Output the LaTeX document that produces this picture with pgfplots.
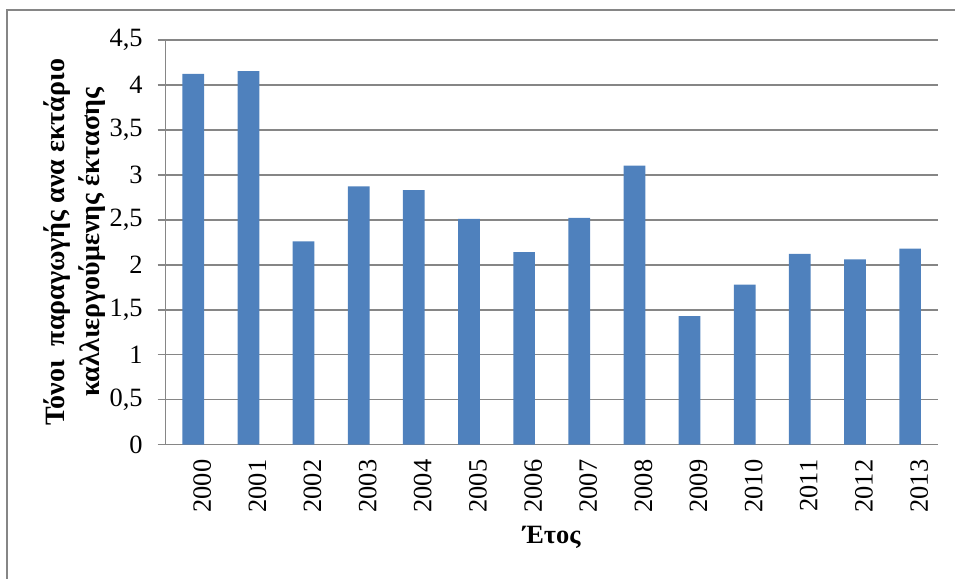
\documentclass[border=0pt]{standalone}
\usepackage{fontspec}
\setmainfont{Liberation Serif}
\usepackage{pgfplots}
\pgfplotsset{compat=1.18}
\definecolor{barblue}{HTML}{4F81BD}
\definecolor{gridgray}{HTML}{868686}

\begin{document}
\begin{tikzpicture}[x=1pt,y=1pt]
  % canvas: 477.5pt x 289.5pt
  \path[use as bounding box] (0,0) rectangle (477.5,289.5);
  % chart frame (left and top edges)
  \draw[gridgray, line width=0.6pt] (3.5,0) -- (3.5,284.5) -- (477.5,284.5);
  \begin{axis}[
    at={(82.85pt,67.15pt)}, anchor=south west,
    scale only axis,
    width=386pt, height=202.5pt,
    ymin=0, ymax=4.5,
    xmin=-0.5, xmax=13.5,
    ytick={0,0.5,1,1.5,2,2.5,3,3.5,4,4.5},
    yticklabels={0,{0,5},1,{1,5},2,{2,5},3,{3,5},4,{4,5}},
    xtick={0,...,13},
    xticklabels={2000,2001,2002,2003,2004,2005,2006,2007,2008,2009,2010,2011,2012,2013},
    ymajorgrids,
    grid style={gridgray, line width=0.8pt},
    axis line style={gridgray, line width=0.8pt},
    axis x line*=bottom,
    axis y line*=left,
    tick align=outside,
    ytick style={gridgray, line width=0.8pt},
    major tick length=4pt,
    xtick style={draw=none},
    tick label style={font=\fontsize{13.2}{15}\selectfont, text=black},
    yticklabel style={xshift=-4pt},
    xticklabel style={rotate=90, anchor=east, yshift=-4.5pt},
    xlabel={Έτος},
    xlabel style={font=\fontsize{13.2}{15}\selectfont\bfseries, at={(axis description cs:0.5,-0.23)}, anchor=center},
    ylabel={Τόνοι\ \ παραγωγής ανα εκτάριο\\καλλιεργούμενης έκτασης},
    ylabel style={font=\fontsize{14}{17.5}\selectfont\bfseries, align=center, at={(axis description cs:-0.118,0.5)}, anchor=center},
    clip=false,
  ]
    \addplot[ybar, bar width=10.85pt, fill=barblue, draw=none]
      coordinates {
        (0,4.12) (1,4.15) (2,2.26) (3,2.87) (4,2.83) (5,2.51) (6,2.14)
        (7,2.52) (8,3.10) (9,1.43) (10,1.78) (11,2.12) (12,2.06) (13,2.18)
      };
  \end{axis}
\end{tikzpicture}
\end{document}
